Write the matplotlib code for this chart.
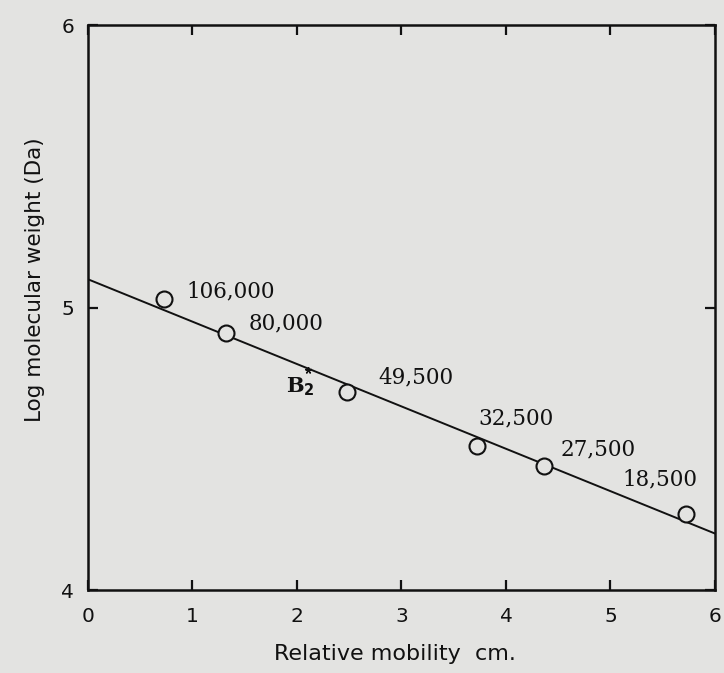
import matplotlib
matplotlib.use("Agg")
import matplotlib.pyplot as plt

# Marker proteins: relative mobility (cm) vs log molecular weight
mobility = [0.73, 1.32, 2.48, 3.72, 4.36, 5.72]
log_mw = [5.03, 4.91, 4.70, 4.51, 4.44, 4.27]
mw_labels = ["106,000", "80,000", "49,500", "32,500", "27,500", "18,500"]

# fitted line (read at the axis edges)
fit_x = [0, 6]
fit_y = [5.10, 4.20]

# unknown sample B2
b2_x = [2.11]
b2_y = [4.78]

x_ticks = [0, 1, 2, 3, 4, 5, 6]
y_ticks = [4, 5, 6]

BG = "#e3e3e1"
INK = "#111111"

fig = plt.figure(figsize=(7.24, 6.73), dpi=100, facecolor=BG)
ax = fig.add_axes([0.1215, 0.1233, 0.866, 0.8395], facecolor=BG)

ax.plot(fit_x, fit_y, color=INK, lw=1.4, zorder=2)
ax.plot(mobility, log_mw, "o", ms=11.5, mfc=BG, mec=INK, mew=1.5, zorder=3)
ax.plot(b2_x, b2_y, marker=(5, 2, 0), ms=5, color=INK, lw=0, zorder=3)

# label offsets in pixels (left edge / vertical centre relative to marker)
offsets = [(22, 8), (23, 10), (31, 15), (2, 28), (17, 16), (-63, 34)]
for x, y, lab, (dx, dy) in zip(mobility, log_mw, mw_labels, offsets):
    ax.annotate(lab, (x, y), xytext=(dx, dy), textcoords="offset pixels",
                fontsize=15.5, family="DejaVu Serif", va="center", ha="left",
                color=INK)

ax.annotate("B$_\\mathbf{2}$", (b2_x[0], b2_y[0]), xytext=(6, -17), textcoords="offset pixels",
            fontsize=15, family="DejaVu Serif", fontweight="bold", ha="right", va="center",
            color=INK)

ax.set_xlim(0, 6)
ax.set_ylim(4, 6)
ax.set_xticks(x_ticks)
ax.set_yticks(y_ticks)
ax.tick_params(direction="in", length=7, width=1.6, top=True, right=True,
               labelsize=14.5, colors=INK, pad=10)
ax.tick_params(axis="x", pad=12)
for s in ax.spines.values():
    s.set_linewidth(1.8)
    s.set_color(INK)

ax.set_xlabel("Relative mobility  cm.", fontsize=16, color=INK)
ax.set_ylabel("Log molecular weight (Da)", fontsize=15.5, color=INK)
ax.xaxis.set_label_coords(0.49, -0.095)
ax.yaxis.set_label_coords(-0.068, 0.55)

fig.savefig("out.png", dpi=100, facecolor=BG)
